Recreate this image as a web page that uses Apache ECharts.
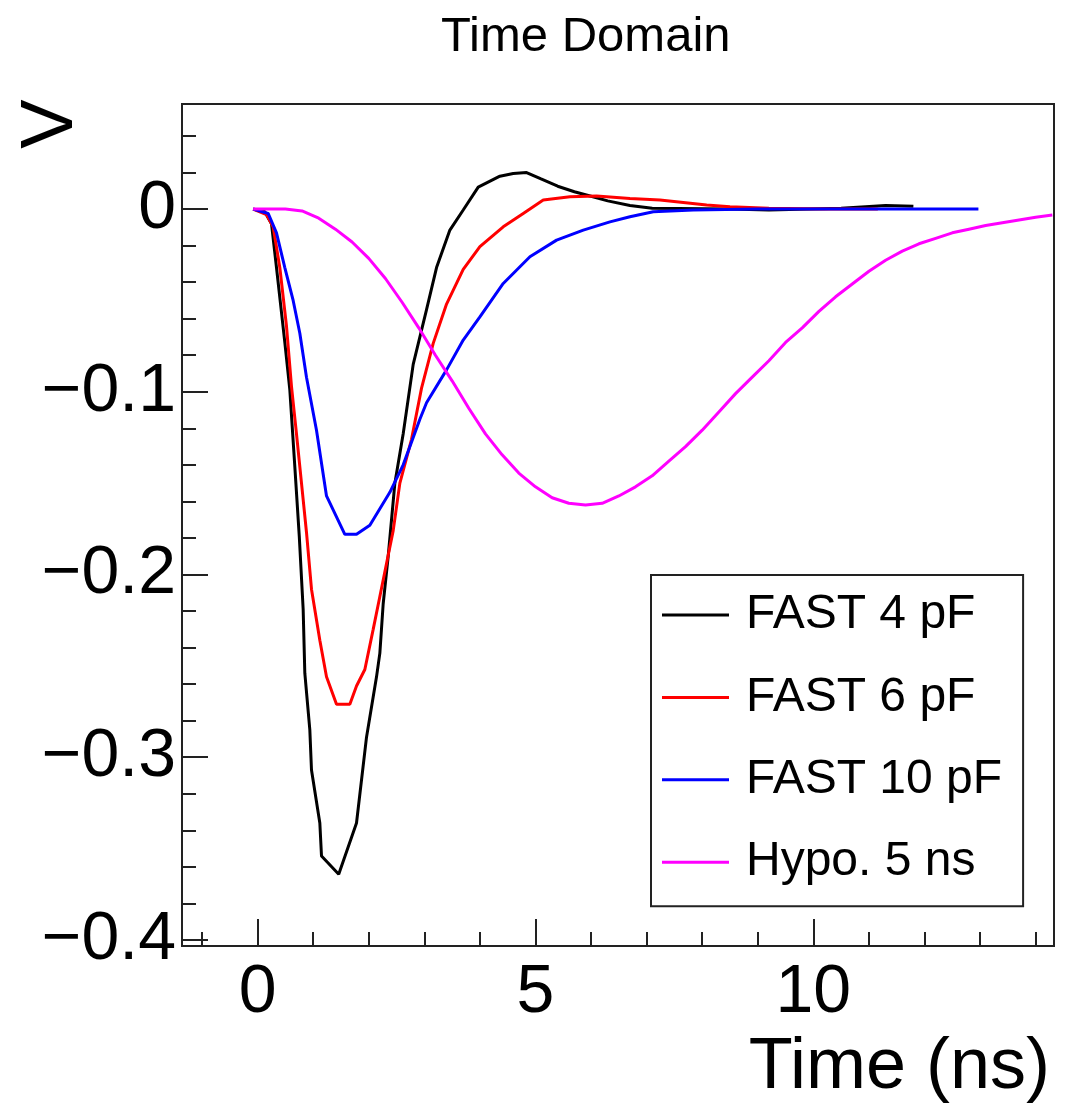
<!DOCTYPE html>
<html>
<head>
<meta charset="utf-8">
<script src="https://cdn.jsdelivr.net/npm/echarts@6/dist/echarts.min.js"></script>
<style>
html,body{margin:0;padding:0;background:#fff;}
#chart{width:1076px;height:1110px;}
</style>
</head>
<body>
<div id="chart"></div>
<script>
// ---- data (time in ns, amplitude in V) ----
var seriesNames = ['FAST 4 pF', 'FAST 6 pF', 'FAST 10 pF', 'Hypo. 5 ns'];
var fast4pF = [[-0.08,0],[0.13,-0.0015],[0.25,-0.008],[0.34,-0.032],[0.49,-0.073],[0.58,-0.099],[0.67,-0.141],[0.75,-0.179],[0.82,-0.219],[0.85,-0.254],[0.94,-0.285],[0.97,-0.307],[1.12,-0.336],[1.15,-0.354],[1.46,-0.364],[1.78,-0.336],[1.96,-0.289],[2.14,-0.256],[2.20,-0.243],[2.26,-0.216],[2.35,-0.190],[2.47,-0.150],[2.62,-0.123],[2.80,-0.085],[3.04,-0.055],[3.22,-0.032],[3.46,-0.0115],[3.70,-0.0005],[3.97,0.012],[4.36,0.018],[4.60,0.0195],[4.84,0.020],[5.10,0.0165],[5.40,0.0125],[5.70,0.0095],[6.00,0.007],[6.30,0.0045],[6.70,0.002],[7.10,0.0005],[8.5,0],[9.2,-0.0005],[10.5,0.0005],[11.3,0.002],[11.8,0.0015]];
var fast6pF = [[-0.08,0],[0.16,-0.003],[0.28,-0.0097],[0.40,-0.032],[0.52,-0.064],[0.61,-0.097],[0.70,-0.123],[0.79,-0.150],[0.88,-0.177],[0.97,-0.208],[1.12,-0.236],[1.24,-0.256],[1.42,-0.271],[1.66,-0.271],[1.78,-0.261],[1.93,-0.252],[2.08,-0.230],[2.20,-0.212],[2.32,-0.194],[2.44,-0.176],[2.56,-0.150],[2.77,-0.126],[2.95,-0.098],[3.16,-0.0735],[3.40,-0.052],[3.70,-0.033],[4.00,-0.0206],[4.42,-0.0097],[4.78,-0.0024],[5.14,0.0049],[5.62,0.0067],[6.10,0.0071],[6.70,0.0058],[7.24,0.0049],[8.08,0.0022],[8.5,0.0013],[9.2,0.0005],[10.2,0],[11.16,0]];
var fast10pF = [[-0.08,0],[0.19,-0.0024],[0.34,-0.013],[0.49,-0.032],[0.64,-0.050],[0.76,-0.068],[0.88,-0.092],[1.06,-0.121],[1.24,-0.157],[1.57,-0.178],[1.78,-0.178],[2.02,-0.173],[2.38,-0.155],[2.62,-0.140],[2.92,-0.115],[3.04,-0.106],[3.40,-0.088],[3.70,-0.0717],[4.00,-0.059],[4.42,-0.0407],[4.90,-0.0261],[5.38,-0.017],[5.86,-0.0115],[6.34,-0.007],[6.70,-0.0042],[7.12,-0.0015],[7.84,-0.0005],[9,0],[10.5,0],[12.97,0]];
var hypo5ns = [[-0.08,0],[0.5,0],[0.8,-0.001],[1.1,-0.005],[1.4,-0.011],[1.7,-0.018],[2.0,-0.027],[2.3,-0.038],[2.6,-0.051],[2.9,-0.065],[3.2,-0.080],[3.5,-0.094],[3.8,-0.109],[4.1,-0.123],[4.4,-0.1345],[4.7,-0.1445],[5.0,-0.152],[5.3,-0.158],[5.6,-0.161],[5.9,-0.162],[6.2,-0.161],[6.5,-0.157],[6.8,-0.152],[7.1,-0.146],[7.4,-0.138],[7.7,-0.130],[8.0,-0.121],[8.3,-0.111],[8.6,-0.101],[8.9,-0.092],[9.2,-0.083],[9.5,-0.073],[9.8,-0.065],[10.1,-0.056],[10.4,-0.048],[10.7,-0.041],[11.0,-0.034],[11.3,-0.028],[11.6,-0.023],[11.9,-0.019],[12.2,-0.016],[12.5,-0.013],[12.8,-0.011],[13.1,-0.009],[13.4,-0.0075],[13.7,-0.006],[14.0,-0.0045],[14.3,-0.0033]];
var seriesColors = ['#000000', '#ff0000', '#0000ff', '#ff00ff'];

// ---- ticks ----
var xMajorTicks = [0, 5, 10];
var xMinorTicks = [-1, 0, 1, 2, 3, 4, 5, 6, 7, 8, 9, 10, 11, 12, 13, 14];
var yMajorTicks = [-0.4, -0.3, -0.2, -0.1, 0];
var yMinorTicks = [-0.4, -0.38, -0.36, -0.34, -0.32, -0.3, -0.28, -0.26, -0.24, -0.22, -0.2, -0.18, -0.16, -0.14, -0.12, -0.1, -0.08, -0.06, -0.04, -0.02, 0, 0.02, 0.04];
var xRange = [-1.36, 14.33];
var yRange = [-0.4033, 0.0575];

var FONT = 'Liberation Sans';
var chart = echarts.init(document.getElementById('chart'), null, {renderer: 'canvas'});

function fmtY(v) {
  if (v === 0) return '0';
  return String(v).replace('-', '\u2212');
}

var allData = [fast4pF, fast6pF, fast10pF, hypo5ns];
var series = allData.map(function (d, i) {
  return {
    name: seriesNames[i],
    type: 'line',
    xAxisIndex: 0,
    yAxisIndex: 0,
    data: d,
    symbol: 'none',
    showSymbol: false,
    smooth: false,
    clip: true,
    color: seriesColors[i],
    lineStyle: {color: seriesColors[i], width: 3},
    animation: false
  };
});

var option = {
  animation: false,
  backgroundColor: '#fff',
  title: {
    text: 'Time Domain',
    left: 441,
    top: 13,
    padding: 0,
    textStyle: {fontFamily: FONT, fontSize: 49, fontWeight: 'normal', color: '#000'}
  },
  grid: {
    left: 182, right: 22, top: 104, bottom: 164,
    show: true, borderColor: '#222', borderWidth: 2, backgroundColor: 'transparent',
    containLabel: false
  },
  legend: {
    orient: 'vertical',
    left: 651,
    top: 575,
    data: seriesNames,
    icon: 'rect',
    itemWidth: 67,
    itemHeight: 3,
    itemGap: 34.4,
    padding: [16, 21, 20, 11],
    borderColor: '#222',
    borderWidth: 2,
    backgroundColor: '#fff',
    textStyle: {fontFamily: FONT, fontSize: 48, color: '#000', lineHeight: 48, padding: [0, 0, 0, 12]}
  },
  xAxis: [
    {
      type: 'value', min: xRange[0], max: xRange[1], position: 'bottom',
      axisLine: {show: true, onZero: false, lineStyle: {color: '#222', width: 2}},
      axisTick: {show: true, inside: true, length: 27, customValues: xMajorTicks, lineStyle: {color: '#222', width: 2}},
      axisLabel: {show: true, customValues: xMajorTicks, margin: 13, fontFamily: FONT, fontSize: 68, color: '#000'},
      splitLine: {show: false}
    },
    {
      type: 'value', min: xRange[0], max: xRange[1], position: 'bottom',
      axisLine: {show: false, onZero: false},
      axisTick: {show: true, inside: true, length: 14, customValues: xMinorTicks, lineStyle: {color: '#222', width: 2}},
      axisLabel: {show: false},
      splitLine: {show: false}
    }
  ],
  yAxis: [
    {
      type: 'value', min: yRange[0], max: yRange[1], position: 'left',
      axisLine: {show: true, onZero: false, lineStyle: {color: '#222', width: 2}},
      axisTick: {show: true, inside: true, length: 26, customValues: yMajorTicks, lineStyle: {color: '#222', width: 2}},
      axisLabel: {show: true, customValues: yMajorTicks, margin: 6, formatter: fmtY, fontFamily: FONT, fontSize: 68, color: '#000'},
      splitLine: {show: false}
    },
    {
      type: 'value', min: yRange[0], max: yRange[1], position: 'left',
      axisLine: {show: false, onZero: false},
      axisTick: {show: true, inside: true, length: 14, customValues: yMinorTicks, lineStyle: {color: '#222', width: 2}},
      axisLabel: {show: false},
      splitLine: {show: false}
    }
  ],
  graphic: [
    {
      type: 'text', right: 26, top: 1032,
      style: {text: 'Time (ns)', fontFamily: FONT, fontSize: 72, fill: '#000'}
    },
    {
      type: 'text', x: 52, y: 124, rotation: Math.PI / 2,
      style: {text: 'V', fontFamily: FONT, fontSize: 74, fill: '#000', align: 'center', verticalAlign: 'middle'}
    }
  ],
  series: series
};
chart.setOption(option);
</script>
</body>
</html>
